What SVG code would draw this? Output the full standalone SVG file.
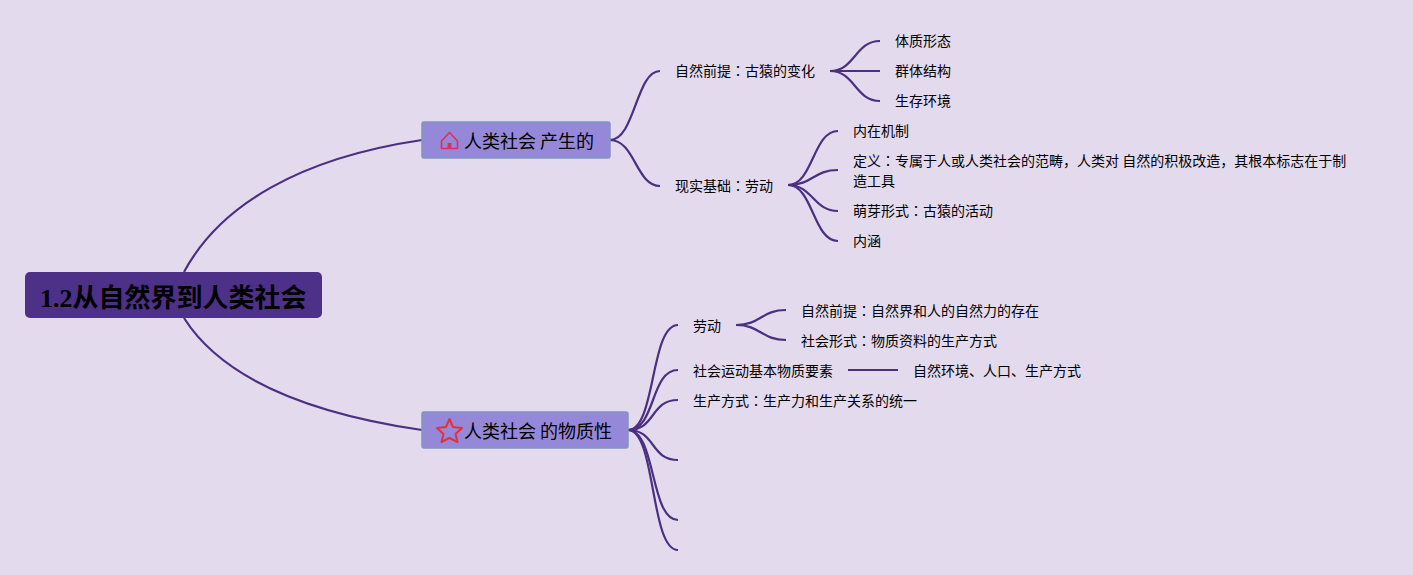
<svg xmlns="http://www.w3.org/2000/svg" width="1413" height="575" viewBox="0 0 1413 575">
<style>
text{font-family:"Noto Sans CJK SC","Liberation Sans",sans-serif;fill:#000}
.t{font-size:14px}
.m{font-size:18px}
.k{font-family:"Noto Sans CJK TC","Noto Sans CJK SC",sans-serif}
.c{fill:none;stroke:#4b2f83;stroke-width:2.200}
.b{fill:#9688d8;stroke:#8095bd;stroke-width:1.500}
</style>
<rect width="1413" height="575" fill="#e3daee"/>
<g id="connectors">
<path class="c" d="M184 272C220 205 300 158 422 140"/>
<path class="c" d="M184 318C220 375 300 412 422 430"/>
<path class="c" d="M610 140C635 140 636 71 660 71"/>
<path class="c" d="M610 140C635 140 636 186 660 186"/>
<path class="c" d="M830 71C855 71 855 41 880 41"/>
<path class="c" d="M830 71H880"/>
<path class="c" d="M830 71C855 71 855 101 880 101"/>
<path class="c" d="M788 185C813 185 813 131 838 131"/>
<path class="c" d="M788 185C813 185 813 170 838 170"/>
<path class="c" d="M788 185C813 185 813 211 838 211"/>
<path class="c" d="M788 185C813 185 813 241 838 241"/>
<path class="c" d="M628 430C656 430 650 325 678 325"/>
<path class="c" d="M628 430C656 430 650 370 678 370"/>
<path class="c" d="M628 430C656 430 650 400 678 400"/>
<path class="c" d="M628 430C656 430 650 460 678 460"/>
<path class="c" d="M628 430C656 430 650 520 678 520"/>
<path class="c" d="M628 430C656 430 650 550 678 550"/>
<path class="c" d="M736 325C761 325 761 310 786 310"/>
<path class="c" d="M736 325C761 325 761 340 786 340"/>
<path class="c" d="M848 370H898"/>
</g>
<g id="root"><rect x="25" y="272" width="297" height="46" rx="5" fill="#4d3087"/><text x="40" y="307" style="font-size:26px;font-weight:700;font-family:'Liberation Serif','Noto Sans CJK SC',serif">1.2从自然界到人类社会</text></g>
<g id="n1"><rect class="b" x="422" y="122" width="188" height="36" rx="2"/>
<path d="M441.500 141L449.500 132.500L457.500 141V148.500H441.500Z" fill="none" stroke="#d9315f" stroke-width="1.600" stroke-linejoin="round"/><rect x="447.500" y="143" width="4" height="5.500" fill="#d9315f"/>
<text class="m" x="464" y="148">人类社会 产生的</text></g>
<g id="n2"><rect class="b" x="422" y="412" width="206" height="36" rx="2"/>
<path d="M449.500 419L453 427L462 428L455.500 434L457.500 442L449.500 438L441.500 442L443.500 434L437 428L446 427Z" fill="none" stroke="#e0323c" stroke-width="2" stroke-linejoin="round"/>
<text class="m" x="464" y="438">人类社会 的物质性</text></g>
<g id="a1"><text class="t" x="675" y="76">自然前提<tspan class="k">：</tspan>古猿的变化</text></g>
<g id="a2"><text class="t" x="675" y="191">现实基础<tspan class="k">：</tspan>劳动</text></g>
<g id="a3"><text class="t" x="895" y="46">体质形态</text></g>
<g id="a4"><text class="t" x="895" y="76">群体结构</text></g>
<g id="a5"><text class="t" x="895" y="106">生存环境</text></g>
<g id="b1"><text class="t" x="853" y="136">内在机制</text></g>
<g id="b2"><text class="t" x="853" y="166">定义<tspan class="k">：</tspan>专属于人或人类社会的范畴，人类对 自然的积极改造，其根本标志在于制</text><text class="t" x="853" y="186">造工具</text></g>
<g id="b3"><text class="t" x="853" y="216">萌芽形式<tspan class="k">：</tspan>古猿的活动</text></g>
<g id="b4"><text class="t" x="853" y="246">内涵</text></g>
<g id="c1"><text class="t" x="693" y="331">劳动</text></g>
<g id="c2"><text class="t" x="693" y="376">社会运动基本物质要素</text></g>
<g id="c3"><text class="t" x="693" y="406">生产方式<tspan class="k">：</tspan>生产力和生产关系的统一</text></g>
<g id="d1"><text class="t" x="801" y="316">自然前提<tspan class="k">：</tspan>自然界和人的自然力的存在</text></g>
<g id="d2"><text class="t" x="801" y="346">社会形式<tspan class="k">：</tspan>物质资料的生产方式</text></g>
<g id="d3"><text class="t" x="913" y="376">自然环境、人口、生产方式</text></g>
</svg>
